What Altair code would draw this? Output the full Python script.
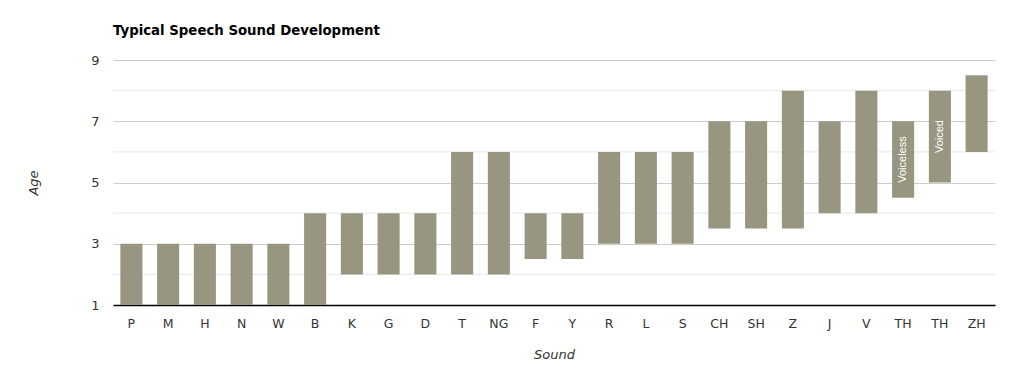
import altair as alt
import pandas as pd

sounds = ["P", "M", "H", "N", "W", "B", "K", "G", "D", "T", "NG", "F", "Y",
          "R", "L", "S", "CH", "SH", "Z", "J", "V", "TH", "TH", "ZH"]
notes = ["", "", "", "", "", "", "", "", "", "", "", "", "",
         "", "", "", "", "", "", "", "", "Voiceless", "Voiced", ""]
start_age = [1, 1, 1, 1, 1, 1, 2, 2, 2, 2, 2, 2.5, 2.5,
             3, 3, 3, 3.5, 3.5, 3.5, 4, 4, 4.5, 5, 6]
end_age = [3, 3, 3, 3, 3, 4, 4, 4, 4, 6, 6, 4, 4,
           6, 6, 6, 7, 7, 8, 7, 8, 7, 8, 8.5]
minor_grid = [2, 4, 6, 8]
major_ticks = [1, 3, 5, 7, 9]

keys = [s + ("|" + n if n else "") for s, n in zip(sounds, notes)]
df = pd.DataFrame({"key": keys, "sound": sounds, "note": notes,
                   "start": start_age, "end": end_age})
grid_df = pd.DataFrame({"v": minor_grid})

FONT = "DejaVu Sans"

yscale = alt.Scale(domain=[1, 9], nice=False)
yaxis = alt.Axis(values=major_ticks, ticks=False, domain=False, gridColor="#cccccc",
                 labelFont=FONT, labelFontSize=13, labelColor="#333333",
                 labelPadding=14, titleFont=FONT, titleFontSize=13,
                 titleFontStyle="italic", titleFontWeight="normal",
                 titleColor="#333333", titlePadding=50)

x = alt.X("key:N", sort=keys, title="Sound",
          scale=alt.Scale(paddingInner=0.4, paddingOuter=0.2),
          axis=alt.Axis(labelExpr="split(datum.label, '|')[0]", labelAngle=0,
                        ticks=False, domainColor="#000000", domainWidth=1.5,
                        labelFont=FONT, labelFontSize=12.5, labelColor="#333333",
                        labelPadding=12, titleFont=FONT, titleFontSize=13,
                        titleFontStyle="italic", titleFontWeight="normal",
                        titleColor="#333333", titlePadding=19))

minor = alt.Chart(grid_df).mark_rule(color="#e8e8e8", strokeWidth=1).encode(
    y=alt.Y("v:Q", title="Age", scale=yscale, axis=yaxis),
)

bars = alt.Chart(df).mark_bar(color="#989680").encode(
    x=x,
    y=alt.Y("start:Q", title="Age", scale=yscale, axis=yaxis),
    y2="end:Q",
)

labels = alt.Chart(df).transform_filter("datum.note != ''").transform_calculate(
    mid="(datum.start + datum.end) / 2"
).mark_text(
    angle=270, align="center", baseline="middle",
    color="white", font="Liberation Sans", fontSize=11
).encode(
    x=alt.X("key:N", sort=keys),
    y=alt.Y("mid:Q", title="Age", scale=yscale, axis=yaxis),
    text="note:N",
)

chart = alt.layer(minor, bars, labels).properties(
    width=882, height=245,
    padding={"left": 105, "top": 52, "right": 5, "bottom": 56},
    autosize=alt.AutoSizeParams(type="none"),
    title=alt.TitleParams("Typical Speech Sound Development", anchor="start",
                          frame="group",
                          font=FONT, fontSize=13.3, fontWeight="bold",
                          color="#000000", offset=17),
).configure_view(stroke=None)

chart.save("out.html", embed_options={"renderer": "svg", "actions": False})
